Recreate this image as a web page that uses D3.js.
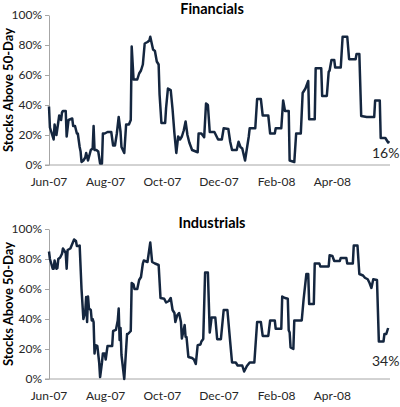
<!DOCTYPE html>
<html>
<head>
<meta charset="utf-8">
<script src="https://cdn.jsdelivr.net/npm/d3@7"></script>
<style>
    body { margin: 0; background: #fff; }
    svg text { font-family: Lato, "Open Sans", sans-serif; fill: #262626; }
    .title { font-size: 14.5px; font-weight: bold; fill: #000; }
    .ylabel { font-size: 13px; font-weight: bold; fill: #000; }
    .tick text { font-size: 12px; }
    .axis path, .axis line, .x-line { stroke: #a6a6a6; }
    .series { fill: none; stroke: #14263f; stroke-width: 2.5; stroke-linejoin: round; }
    .last-label { font-size: 14px; }
</style>
</head>
<body>
<svg id="charts" width="400" height="407"></svg>
<script>
// day offsets counted from 1 Jun 2007, values in % of stocks above 50-day average
const finDays = [0, 1, 5, 6, 8, 11, 13, 14, 15, 18, 19, 21, 25, 26, 28, 30, 31, 33, 34, 35,
    37, 39, 40, 42, 45, 47, 48, 49, 51, 53, 55, 57, 58, 60, 63, 67, 69, 71, 73, 75,
    77, 78, 81, 83, 86, 88, 89, 91, 95, 97, 99, 101, 103, 106, 108, 109, 112, 114, 116, 118,
    119, 121, 125, 126, 128, 131, 133, 135, 136, 137, 139, 141, 143, 145, 147, 149, 151, 154, 158, 160,
    161, 164, 167, 169, 171, 173, 178, 182, 186, 188, 193, 195, 197, 202, 204, 206, 208, 211, 215, 216,
    222, 224, 228, 230, 236, 238, 243, 244, 250, 252, 254, 258, 259, 264, 266, 271, 273, 276, 279, 280,
    286, 287, 293, 294, 299, 301, 302, 304, 307, 308, 314, 316, 321, 323, 330, 331, 334, 336, 342, 350,
    351, 356, 357, 362, 363, 365, 366];
const finValues = [39, 25, 17, 27, 20, 33, 30, 35, 36, 36, 19, 30, 31, 26, 26, 21, 21, 12, 9, 2,
    3, 5, 8, 3, 10, 11, 26, 10, 10, 9, 1, 1, 21, 21, 22, 22, 13, 13, 21, 32,
    22, 12, 8, 27, 27, 30, 79, 57, 57, 61, 63, 67, 81, 82, 83, 85.5, 77, 76, 69, 67,
    47, 28, 28, 38, 51, 50, 37, 21, 14.5, 8, 19, 17, 19, 23, 29, 20, 15, 10, 9, 8.5,
    21, 21, 18.5, 41, 40, 22, 22, 17, 17, 24.5, 24, 15.5, 10, 10, 15.5, 12, 11, 3, 19, 24.5,
    24.5, 44, 44, 33, 33, 21, 21, 24.5, 24.5, 43, 36, 36, 3, 2, 21, 21, 48, 51, 56, 30.5,
    30.5, 64.5, 64.5, 46, 46, 62, 63, 70, 70, 65, 65, 85.5, 85.5, 70.5, 70.5, 74, 74, 32.7, 32, 32,
    43, 43, 18, 18, 17, 15, 16];

const indDays = [0, 1, 4, 5, 6, 8, 9, 10, 12, 14, 15, 17, 18, 19, 20, 23, 25, 27, 29, 30,
    32, 33, 35, 37, 39, 40, 41, 42, 43, 45, 46, 47, 48, 49, 50, 52, 54, 55, 57, 58,
    60, 61, 63, 67, 68, 69, 72, 74, 75, 76, 77, 78, 81, 84, 85, 88, 89, 91, 92, 95,
    97, 99, 101, 102, 106, 109, 111, 114, 118, 120, 124, 126, 129, 131, 133, 135, 136, 138, 140, 142,
    143, 146, 147, 148, 150, 154, 156, 158, 160, 163, 164, 166, 168, 171, 173, 175, 179, 181, 185, 188,
    192, 195, 197, 201, 203, 208, 210, 213, 216, 221, 224, 228, 230, 236, 238, 243, 244, 250, 251, 254,
    257, 258, 259, 260, 263, 264, 272, 274, 277, 279, 280, 285, 286, 291, 292, 301, 302, 305, 307, 313,
    314, 320, 321, 327, 328, 332, 334, 338, 340, 343, 345, 347, 349, 353, 355, 360, 361, 363, 365];
const indValues = [85, 80, 73.5, 73.5, 79, 73.5, 74, 80, 81, 83.5, 87, 85, 84, 73.5, 86, 87, 90, 93, 92, 88.7,
    88.7, 89, 60, 40, 44.7, 54.7, 38, 55, 47, 46, 39, 40, 38, 17, 22.5, 22, 11, 1.3, 11, 17,
    17, 13, 22, 22, 22, 32, 32.7, 39, 47, 26, 34, 16, 0, 30, 30, 32, 64, 63, 60, 60,
    66, 68, 77, 79, 78, 91, 78, 77, 76, 54, 53.5, 51, 52, 54, 46, 44, 38, 42.5, 44, 38,
    27, 36, 28, 28, 14.7, 14, 13, 10, 22.5, 23, 25, 26.7, 71, 71, 31, 41, 41, 26.5, 26.5, 46,
    46, 24.7, 11, 11, 9, 9, 5, 8.7, 11, 11, 38, 38, 28.7, 28.7, 39, 39, 33.5, 33.5, 55, 54,
    53.5, 32.5, 31, 21, 20, 39, 39, 53, 70, 70, 50, 50, 77, 77, 75, 75, 82.5, 82, 78.7, 78.7,
    80.7, 80.7, 77, 77, 89, 89, 70, 69, 67.5, 66.5, 64, 60.7, 66.5, 66, 25, 25, 30, 30, 34];

const titles = ["Financials", "Industrials"];
const lastLabels = ["16%", "34%"];
const tickDates = ["2007-06-01", "2007-08-01", "2007-10-01", "2007-12-01", "2008-02-01", "2008-04-01"];
const yTicks = [0, 20, 40, 60, 80, 100];
const yTitle = "Stocks Above 50-Day";

/** One small panel: line of % of stocks above the 50-day average */
class StockChart {
    constructor(svg, offsetY, title, days, values, lastLabel, labelY) {
        this.start = new Date(2007, 5, 1);
        this.points = days.map((d, i) => ({ date: d3.timeDay.offset(this.start, d), value: values[i] }));
        this.g = svg.append('g').attr('transform', `translate(0,${offsetY})`);
        this.title = title;
        this.lastLabel = lastLabel;
        this.labelY = labelY;
        this.xScale = d3.scaleTime()
            .domain([this.start, new Date(2008, 5, 2)])
            .range([49, 390]);
        this.yScale = d3.scaleLinear().domain([0, 100]).range([165, 15]);
    }

    draw() {
        let x = this.xScale, y = this.yScale;

        this.g.append('line')
            .classed('x-line', true)
            .attr('x1', 45).attr('x2', x.range()[1])
            .attr('y1', y(0)).attr('y2', y(0));

        this.g.append('g')
            .classed('axis', true)
            .attr('transform', `translate(${x.range()[0]},0)`)
            .call(d3.axisLeft(y).tickValues(yTicks).tickSize(4).tickSizeOuter(0).tickPadding(3)
                .tickFormat(d => d + '%'));

        let parse = d3.timeParse('%Y-%m-%d');
        this.g.selectAll('.xlab')
            .data(tickDates.map(parse))
            .join('text')
            .classed('tick', true)
            .attr('x', d => x(d))
            .attr('y', 186)
            .attr('text-anchor', 'middle')
            .style('font-size', '12px')
            .text(d3.timeFormat('%b-%y'));

        let line = d3.line()
            .x(d => x(d.date))
            .y(d => y(d.value));

        this.g.append('path')
            .datum(this.points)
            .classed('series', true)
            .attr('d', line);

        this.g.append('text')
            .classed('title', true)
            .attr('x', 212).attr('y', 14)
            .attr('text-anchor', 'middle')
            .text(this.title);

        this.g.append('text')
            .classed('ylabel', true)
            .attr('transform', `translate(13,90) rotate(-90)`)
            .attr('text-anchor', 'middle')
            .text(yTitle);

        this.g.append('text')
            .classed('last-label', true)
            .attr('x', 372).attr('y', this.labelY)
            .text(this.lastLabel);
    }
}

let svg = d3.select('#charts');
new StockChart(svg, 0, titles[0], finDays, finValues, lastLabels[0], 158).draw();
new StockChart(svg, 214, titles[1], indDays, indValues, lastLabels[1], 152).draw();
</script>
</body>
</html>
